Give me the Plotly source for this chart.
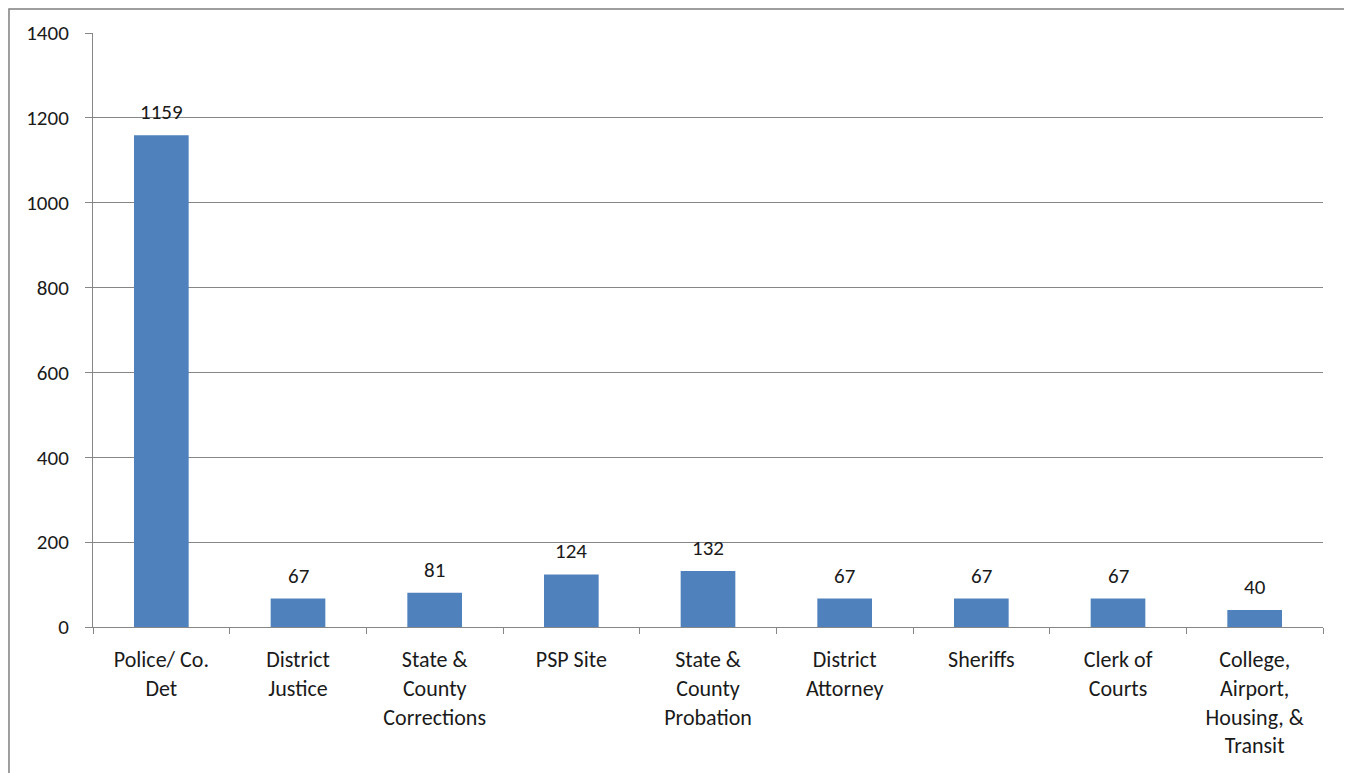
import plotly.graph_objects as go

categories = ["Police/ Co.<br>Det", "District<br>Justice", "State &<br>County<br>Corrections", "PSP Site",
              "State &<br>County<br>Probation", "District<br>Attorney", "Sheriffs", "Clerk of<br>Courts",
              "College,<br>Airport,<br>Housing, &<br>Transit"]
values = [1159, 67, 81, 124, 132, 67, 67, 67, 40]
y_ticks = [0, 200, 400, 600, 800, 1000, 1200, 1400]

font_family = "Carlito, Calibri, Lato, sans-serif"

fig = go.Figure(go.Bar(
    x=categories, y=values,
    marker=dict(color="#4F81BD", line=dict(width=0)),
    width=0.4,
    cliponaxis=False,
))

for c, v in zip(categories, values):
    fig.add_annotation(x=c, y=v, text=str(v), showarrow=False,
                       yanchor="bottom", yshift=8,
                       font=dict(size=21, color="#1a1a1a", family=font_family))

fig.update_layout(
    width=1352, height=773,
    margin=dict(l=85, r=37, t=25, b=154),
    paper_bgcolor="white", plot_bgcolor="white",
    showlegend=False,
    font=dict(family=font_family, size=21, color="#1a1a1a"),
    xaxis=dict(
        type="category", tickson="boundaries", ticks="outside", ticklen=6,
        tickcolor="#868686", showline=True, linecolor="#868686", linewidth=1,
        showgrid=False, tickfont=dict(size=22), ticklabelstandoff=13,
    ),
    yaxis=dict(
        range=[0, 1400], tickvals=y_ticks, ticks="outside", ticklen=7,
        tickcolor="#868686", showline=True, linecolor="#868686", linewidth=1,
        showgrid=True, gridcolor="#868686", gridwidth=1, zeroline=False,
        tickfont=dict(size=21), ticklabelstandoff=12,
    ),
    shapes=[dict(type="rect", xref="paper", yref="paper",
                 x0=-0.0683, x1=1.0179, y0=-0.3, y1=1.0404,
                 line=dict(color="#7f7f7f", width=1.5), layer="below")],
)

fig.write_html("out.html")
